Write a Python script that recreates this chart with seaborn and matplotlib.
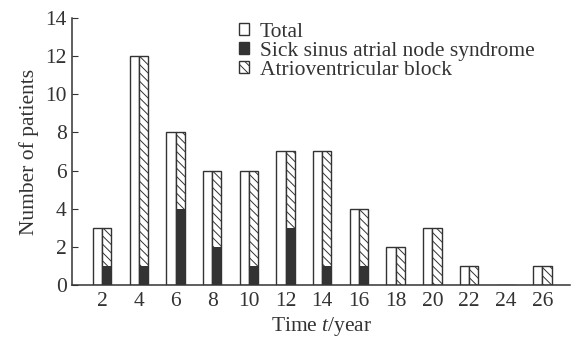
import pandas as pd
import matplotlib
matplotlib.use("Agg")
import matplotlib.pyplot as plt
import seaborn as sns
from matplotlib.patches import Patch

# patients per follow-up time
times = [2, 4, 6, 8, 10, 12, 14, 16, 18, 20, 22, 24, 26]
total = [3, 12, 8, 6, 6, 7, 7, 4, 2, 3, 1, 0, 1]
sick_sinus = [1, 1, 4, 2, 1, 3, 1, 1, 0, 0, 0, 0, 0]
av_block = [2, 11, 4, 4, 5, 4, 6, 3, 2, 3, 1, 0, 1]

sns.set_style("ticks")
plt.rcParams['font.family'] = ['Liberation Serif', 'DejaVu Serif']
plt.rcParams['mathtext.fontset'] = 'custom'
plt.rcParams['mathtext.it'] = 'Liberation Serif:italic'
plt.rcParams['mathtext.rm'] = 'Liberation Serif'
plt.rcParams['hatch.linewidth'] = 0.7
plt.rcParams['hatch.color'] = '#333333'

ink = '#333333'
fs = 15.5

# full-height bars: white total + stacked bar outline (height = sick + block)
stack_top = [s + a for s, a in zip(sick_sinus, av_block)]
df_outline = pd.DataFrame({
    'time': times * 2,
    'series': ['Total'] * len(times) + ['Stack'] * len(times),
    'value': total + stack_top,
})
df_sick = pd.DataFrame({
    'time': times * 2,
    'series': ['Total'] * len(times) + ['Stack'] * len(times),
    'value': [0] * len(times) + sick_sinus,
})

fig = plt.figure(figsize=(5.72, 3.4), dpi=100)
ax = fig.add_axes([0.126, 0.162, 0.871, 0.785])

sns.barplot(data=df_outline, x='time', y='value', hue='series', order=times,
            hue_order=['Total', 'Stack'], palette={'Total': 'white', 'Stack': 'white'},
            width=0.5, gap=0, edgecolor=ink, linewidth=1.0, legend=False, ax=ax,
            errorbar=None)
n = len(times)
for p in ax.patches[n:2 * n]:
    p.set_hatch('\\\\\\\\')

sns.barplot(data=df_sick, x='time', y='value', hue='series', order=times,
            hue_order=['Total', 'Stack'], palette={'Total': ink, 'Stack': ink},
            width=0.5, gap=0, linewidth=0, legend=False, ax=ax, errorbar=None)
for p in ax.patches[2 * n:3 * n]:
    p.set_visible(False)

ax.set_xlim(-0.82, 12.76)
ax.set_ylim(0, 14)
ax.set_yticks(range(0, 15, 2))
sns.despine(ax=ax)
for s in ['left', 'bottom']:
    ax.spines[s].set_color(ink)
    ax.spines[s].set_linewidth(1.1)
ax.tick_params(axis='y', direction='in', length=4, color=ink, labelsize=fs, labelcolor=ink, pad=4)
ax.tick_params(axis='x', length=0, labelsize=fs, labelcolor=ink, pad=5)

ax.set_xlabel('Time $t$/year', fontsize=fs, color=ink, labelpad=3)
ax.set_ylabel('Number of patients', fontsize=fs, color=ink, labelpad=4)

handles = [Patch(facecolor='white', edgecolor=ink, linewidth=1.0),
           Patch(facecolor=ink, edgecolor=ink, linewidth=1.0),
           Patch(facecolor='white', edgecolor=ink, hatch='\\\\\\\\', linewidth=1.0)]
labels = ['Total', 'Sick sinus atrial node syndrome', 'Atrioventricular block']
leg = ax.legend(handles, labels, loc='upper left', bbox_to_anchor=(0.318, 1.015),
                frameon=False, fontsize=fs, handlelength=0.45, handleheight=0.45,
                handletextpad=0.5, labelspacing=0.0, borderaxespad=0)
for t in leg.get_texts():
    t.set_color(ink)

fig.savefig('out.png', dpi=100)
